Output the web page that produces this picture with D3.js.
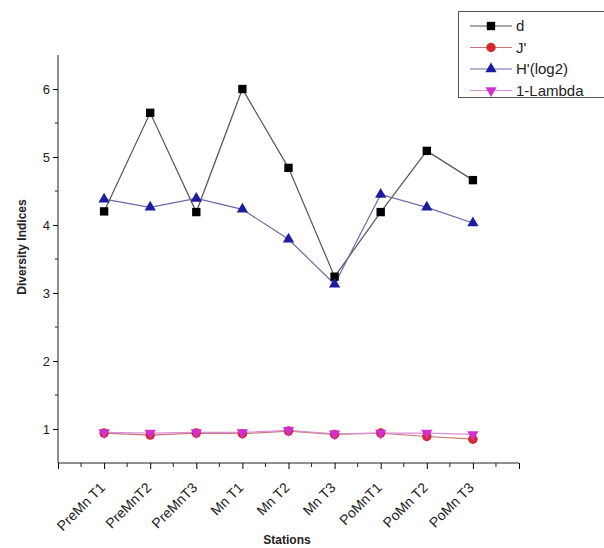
<!DOCTYPE html>
<html>
<head>
<meta charset="utf-8">
<script src="https://cdn.jsdelivr.net/npm/d3@7"></script>
<style>
    body { margin: 0; background: #fff; }
    text { font-family: "Liberation Sans", Arial, sans-serif; }
</style>
</head>
<body>
<svg id="chart" width="604" height="548"></svg>
<script>
// stations along the x axis
var stations = ["PreMn T1", "PreMnT2", "PreMnT3", "Mn T1", "Mn T2", "Mn T3", "PoMnT1", "PoMn T2", "PoMn T3"];

// diversity indices per station
var dValues = [4.20, 5.65, 4.19, 6.00, 4.84, 3.24, 4.19, 5.09, 4.66];
var jValues = [0.94, 0.91, 0.94, 0.93, 0.97, 0.92, 0.94, 0.89, 0.85];
var hValues = [4.38, 4.26, 4.39, 4.23, 3.79, 3.13, 4.45, 4.26, 4.03];
var lambdaValues = [0.95, 0.94, 0.95, 0.95, 0.98, 0.93, 0.94, 0.94, 0.92];

var yTicks = [1, 2, 3, 4, 5, 6];

var series = [
    { name: "d", values: dValues, color: "#000000", line: "#555555", symbol: d3.symbolSquare, size: 70 },
    { name: "J'", values: jValues, color: "#d42a2a", line: "#c87878", symbol: d3.symbolCircle, size: 70 },
    { name: "H'(log2)", values: hValues, color: "#1c1ca0", line: "#6a6aa8", symbol: d3.symbolTriangle, size: 55 },
    { name: "1-Lambda", values: lambdaValues, color: "#d030d0", line: "#d890d8", symbol: d3.symbolTriangle, size: 55, flip: true }
];

var svg = d3.select("#chart");

var plotLeft = 58, plotRight = 519, plotTop = 55, plotBottom = 463;

var x = d3.scaleLinear().domain([0, 10]).range([plotLeft, plotRight]);
var y = d3.scaleLinear().domain([0.5, 6.5]).range([plotBottom, plotTop]);

// y axis with minor ticks
var yAxisG = svg.append("g").attr("transform", "translate(" + plotLeft + ",0)");
yAxisG.call(d3.axisLeft(y).tickValues(yTicks).tickSize(5).tickPadding(3).tickFormat(d3.format("d")));
yAxisG.selectAll(".tick text").style("font-size", "13px").attr("fill", "#222");
yAxisG.select(".domain").attr("d", "M0," + plotTop + "V" + plotBottom).attr("stroke", "#222");
yAxisG.selectAll("line.minor")
    .data([1.5, 2.5, 3.5, 4.5, 5.5])
    .enter().append("line")
    .attr("class", "minor")
    .attr("x1", -3).attr("x2", 0)
    .attr("y1", function(d) { return y(d); })
    .attr("y2", function(d) { return y(d); })
    .attr("stroke", "#222");

// x axis
var xAxisG = svg.append("g").attr("transform", "translate(0," + plotBottom + ")");
xAxisG.call(d3.axisBottom(x).tickValues(d3.range(0, 11)).tickSize(6).tickFormat(function(i) {
    return (i >= 1 && i <= stations.length) ? stations[i - 1] : "";
}));
xAxisG.select(".domain").attr("d", "M" + plotLeft + ",0H" + plotRight).attr("stroke", "#222");
xAxisG.selectAll(".tick text")
    .style("font-size", "14px")
    .attr("fill", "#222")
    .attr("text-anchor", "end")
    .attr("y", 0)
    .attr("dy", "0.35em")
    .attr("transform", "translate(-2,22) rotate(-45)");
xAxisG.selectAll("line.minor")
    .data(d3.range(0.5, 10, 1))
    .enter().append("line")
    .attr("class", "minor")
    .attr("x1", function(d) { return x(d); })
    .attr("x2", function(d) { return x(d); })
    .attr("y1", 0).attr("y2", 4)
    .attr("stroke", "#222");

// axis titles
svg.append("text")
    .attr("x", 287).attr("y", 544)
    .attr("text-anchor", "middle")
    .style("font-size", "12px").style("font-weight", "bold")
    .attr("fill", "#222")
    .text("Stations");

svg.append("text")
    .attr("transform", "translate(26,247) rotate(-90)")
    .attr("text-anchor", "middle")
    .style("font-size", "12px").style("font-weight", "bold")
    .attr("fill", "#222")
    .text("Diversity Indices");

// lines and markers
var lineGen = d3.line()
    .x(function(d, i) { return x(i + 1); })
    .y(function(d) { return y(d); });

series.forEach(function(s) {
    svg.append("path")
        .datum(s.values)
        .attr("d", lineGen)
        .attr("fill", "none")
        .attr("stroke", s.line)
        .attr("stroke-width", 1.2);
});

series.forEach(function(s) {
    svg.append("g").selectAll("path")
        .data(s.values)
        .enter().append("path")
        .attr("d", d3.symbol().type(s.symbol).size(s.size))
        .attr("transform", function(d, i) {
            return "translate(" + x(i + 1) + "," + y(d) + ")" + (s.flip ? " rotate(180)" : "");
        })
        .attr("fill", s.color);
});

// legend
var legend = svg.append("g");
legend.append("rect")
    .attr("x", 458.5).attr("y", 11.5)
    .attr("width", 160).attr("height", 86)
    .attr("fill", "#fff")
    .attr("stroke", "#555");

var legendRows = legend.selectAll("g.row")
    .data(series)
    .enter().append("g")
    .attr("class", "row")
    .attr("transform", function(d, i) { return "translate(0," + (26 + i * 21.5) + ")"; });

legendRows.append("line")
    .attr("x1", 470).attr("x2", 512)
    .attr("y1", 0).attr("y2", 0)
    .attr("stroke", function(d) { return d.line; })
    .attr("stroke-width", 1.2);

legendRows.append("path")
    .attr("d", function(d) { return d3.symbol().type(d.symbol).size(d.size)(); })
    .attr("transform", function(d) { return "translate(491,0)" + (d.flip ? " rotate(180)" : ""); })
    .attr("fill", function(d) { return d.color; });

legendRows.append("text")
    .attr("x", 516).attr("y", 0)
    .attr("dy", "0.35em")
    .style("font-size", "15px")
    .attr("fill", "#222")
    .text(function(d) { return d.name; });
</script>
</body>
</html>
